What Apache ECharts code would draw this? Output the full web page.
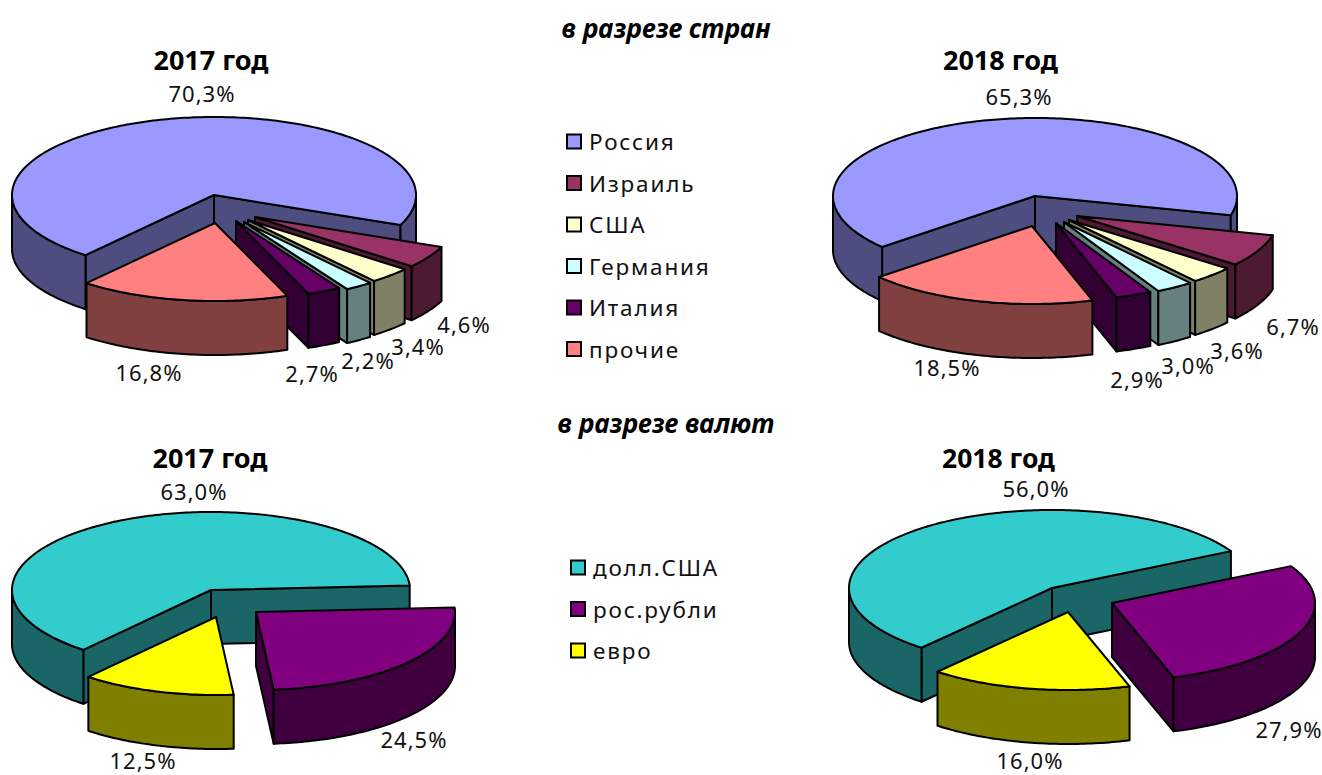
<!DOCTYPE html>
<html>
<head>
<meta charset="utf-8">
<title>Структура</title>
<script src="https://cdn.jsdelivr.net/npm/echarts@6/dist/echarts.min.js"></script>
<style>
html, body { margin: 0; padding: 0; background: #fff; }
#main { width: 1322px; height: 775px; }
/* подписи и легенда разрежены как в оригинале */
#main text { letter-spacing: 1px; }
#main text[style*="22.5px"] { letter-spacing: 1.8px; }
#main text[style*="bold"] { letter-spacing: 0; }
</style>
</head>
<body>
<div id="main"></div>
<script>
// данные
const countryNames = ["Россия", "Израиль", "США", "Германия", "Италия", "прочие"];
const countries2017 = [70.3, 4.6, 3.4, 2.2, 2.7, 16.8];
const countries2018 = [65.3, 6.7, 3.6, 3.0, 2.9, 18.5];
const currencyNames = ["долл.США", "рос.рубли", "евро"];
const currencies2017 = [63.0, 24.5, 12.5];
const currencies2018 = [56.0, 27.9, 16.0];

const countryTop = ["#9999FF", "#993366", "#FFFFCC", "#CCFFFF", "#660066", "#FF8080"];
const countrySide = ["#4D4D80", "#4D1A33", "#808066", "#668080", "#330033", "#804040"];
const currencyTop = ["#33CCCC", "#800080", "#FFFF00"];
const currencySide = ["#1A6666", "#400040", "#808000"];

const FONT = '"Noto Sans", sans-serif';
const DEPTH = 54;

// раскладка: начальный угол, радиусы, вершины секторов, центры подписей
const pies = [
  {
    names: countryNames, values: countries2017, top: countryTop, side: countrySide,
    start: 219.5, rx: 202, ry: 78,
    apex: [[214, 195], [255, 217], [248, 220], [244, 222], [236, 221], [215, 223]],
    label: [[202, 93], [464, 324], [418, 346], [368, 360], [312, 373], [149, 372]],
  },
  {
    names: countryNames, values: countries2018, top: countryTop, side: countrySide,
    start: 229.2, rx: 202, ry: 78,
    apex: [[1035, 196], [1077, 216], [1069, 220], [1064, 222], [1056, 223], [1032, 226]],
    label: [[1019, 96], [1293, 326], [1237, 350], [1188, 365], [1137, 379], [947, 367]],
  },
  {
    names: currencyNames, values: currencies2017, top: currencyTop, side: currencySide,
    start: 219.9, rx: 199, ry: 78,
    apex: [[211, 590], [256, 612], [216, 617]],
    label: [[194, 491], [414, 739], [143, 760]],
  },
  {
    names: currencyNames, values: currencies2018, top: currencyTop, side: currencySide,
    start: 220, rx: 203, ry: 78,
    apex: [[1052, 588], [1112, 603], [1068, 612]],
    label: [[1036, 488], [1289, 729], [1030, 760]],
  },
];

const titles = [
  ["в разрезе стран", 661, 10, 26, "italic"],
  ["в разрезе валют", 661, 405, 26, "italic"],
  ["2017 год", 206, 41, 27, "normal"],
  ["2018 год", 995.5, 41, 27, "normal"],
  ["2017 год", 205, 439, 27, "normal"],
  ["2018 год", 993.5, 439, 26.5, "normal"],
];

function point(apex, pie, deg) {
  const r = (deg * Math.PI) / 180;
  return [apex[0] + pie.rx * Math.sin(r), apex[1] - pie.ry * Math.cos(r)];
}

function poly(points, fill) {
  return {
    type: "polygon",
    shape: { points: points },
    style: { fill: fill, stroke: "#000", lineWidth: 2, lineJoin: "round" },
  };
}

function down(p) {
  return [p[0], p[1] + DEPTH];
}

// один сектор: видимые срезы, внешняя стенка, верх и подпись
function sliceItem(pie, i) {
  return function (params, api) {
    const total = pie.values.reduce((a, b) => a + b, 0);
    const a0 = pie.start + (api.value(1) / total) * 360;
    const a1 = a0 + (api.value(0) / total) * 360;
    const apex = pie.apex[i];
    const side = pie.side[i];
    const children = [];

    const arc = [];
    for (let a = a0; a < a1; a += 1) arc.push(a);
    arc.push(a1);

    // срезы видны только когда смотрят к зрителю
    if (Math.sin((a0 * Math.PI) / 180) < 0) {
      const p = point(apex, pie, a0);
      children.push(poly([apex, p, down(p), down(apex)], side));
    }
    if (Math.sin((a1 * Math.PI) / 180) > 0) {
      const p = point(apex, pie, a1);
      children.push(poly([apex, p, down(p), down(apex)], side));
    }

    // внешняя стенка, только передняя половина эллипса
    let run = [];
    const flush = () => {
      if (run.length > 1) {
        const upper = run.map((a) => point(apex, pie, a));
        const lower = upper.map(down).reverse();
        children.push(poly(upper.concat(lower), side));
      }
      run = [];
    };
    arc.forEach((a) => {
      if (Math.cos((a * Math.PI) / 180) <= 0) run.push(a);
      else flush();
    });
    flush();

    children.push(poly([apex].concat(arc.map((a) => point(apex, pie, a))), pie.top[i]));

    const pos = pie.label[i];
    children.push({
      type: "text",
      z2: 10,
      style: {
        text: api.value(0).toFixed(1).replace(".", ",") + "%",
        x: pos[0],
        y: pos[1],
        align: "center",
        verticalAlign: "middle",
        fill: "#111",
        font: "22px " + FONT,
      },
    });
    return { type: "group", children: children };
  };
}

const series = [];
pies.forEach((pie) => {
  let cum = 0;
  pie.values.forEach((v, i) => {
    series.push({
      type: "custom",
      name: pie.names[i],
      coordinateSystem: "none",
      silent: true,
      animation: false,
      itemStyle: { color: pie.top[i] },
      renderItem: sliceItem(pie, i),
      data: [[v, cum]],
    });
    cum += v;
  });
});

function legendOf(names, left, top) {
  return {
    data: names,
    orient: "vertical",
    left: left,
    top: top,
    padding: 0,
    itemWidth: 14,
    itemHeight: 14,
    itemGap: 18.5,
    icon: "rect",
    selectedMode: false,
    itemStyle: { borderColor: "#000", borderWidth: 2 },
    textStyle: { fontFamily: FONT, fontSize: 22.5, color: "#111", padding: [0, 0, 0, 3] },
  };
}

const chart = echarts.init(document.getElementById("main"), null, { renderer: "svg" });
chart.setOption({
  backgroundColor: "#fff",
  animation: false,
  tooltip: { show: false },
  title: titles.map((t) => ({
    text: t[0],
    left: t[1],
    top: t[2],
    textAlign: "center",
    textStyle: { fontFamily: FONT, fontWeight: "bold", fontStyle: t[4], fontSize: t[3], color: "#000" },
  })),
  legend: [legendOf(countryNames, 566, 130), legendOf(currencyNames, 570, 556)],
  series: series,
});
</script>
</body>
</html>
